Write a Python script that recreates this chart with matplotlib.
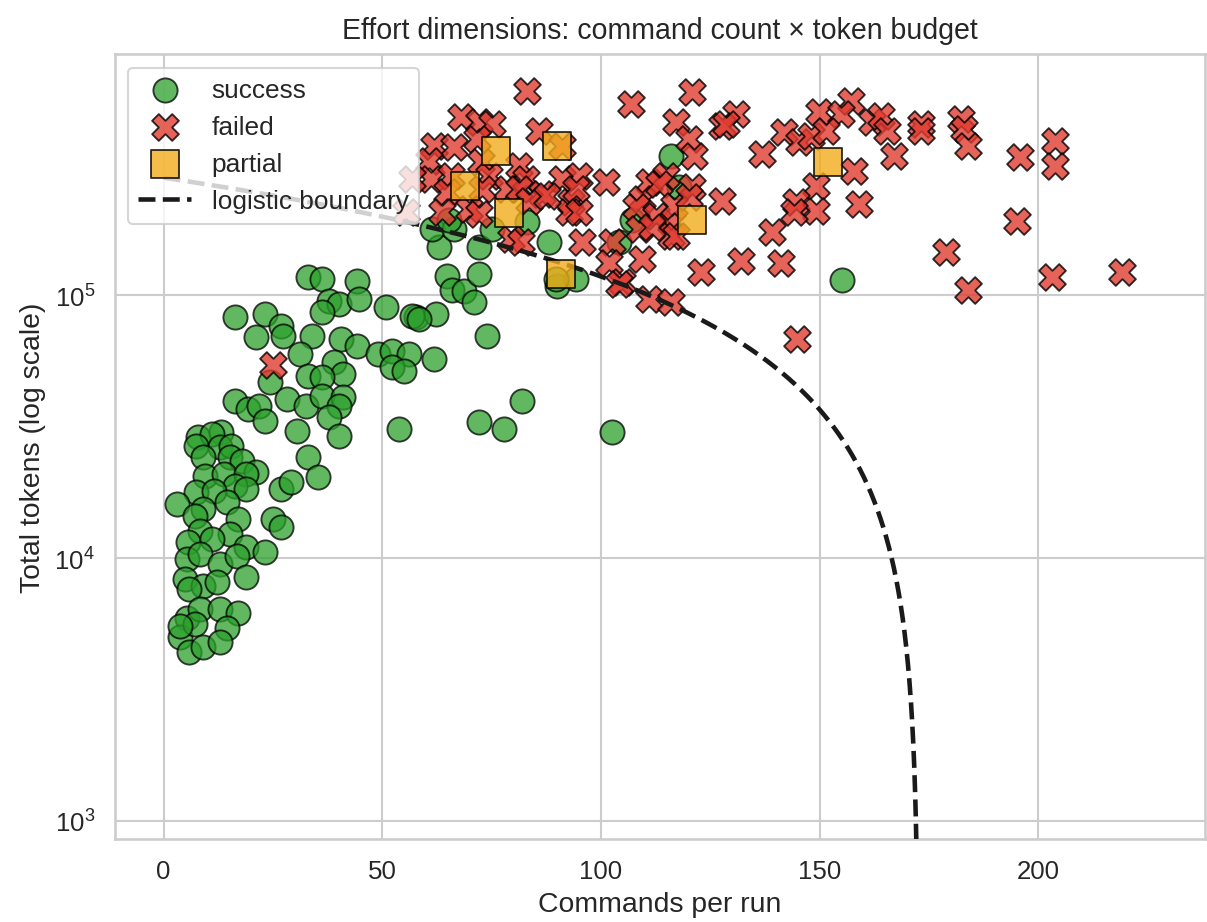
import numpy as np
import matplotlib
matplotlib.use("Agg")
import matplotlib.pyplot as plt
import seaborn as sns

sns.set_theme(style="whitegrid")
plt.rcParams['font.family'] = ['Liberation Sans', 'DejaVu Sans']

# commands per run / total tokens
success_cmds = [7.8, 13.2, 11.0, 7.5, 12.8, 15.5, 8.9, 15.1, 18.0, 21.2, 9.4, 13.9, 18.9, 16.2,
                7.5, 11.6, 18.9, 3.0, 8.9, 14.4, 16.9, 7.1, 15.1, 8.2, 5.5, 11.0, 18.9, 23.1,
                5.3, 8.2, 12.8, 16.7, 4.8, 8.9, 12.1, 18.9, 5.9, 5.3, 8.2, 12.8, 16.9, 3.7,
                7.1, 14.4, 5.9, 8.9, 12.8, 3.7,
                32.9, 36.1, 44.1, 37.9, 40.2, 44.7, 36.1, 50.9, 57.8, 62.3, 16.2, 23.1, 21.2,
                26.9, 27.2, 34.0, 40.6, 44.1, 48.9, 52.1, 56.2, 52.3, 55.0, 61.9, 31.1, 32.9,
                39.0, 40.9, 36.1, 24.2, 28.1, 16.2, 19.2, 21.9, 23.1, 30.6, 32.6, 36.1, 40.9,
                40.2, 37.9, 40.2, 53.9, 32.9, 35.2, 26.9, 29.2, 24.9, 26.9,
                63.0, 64.8, 66.0, 68.7, 71.0, 72.1, 61.4, 66.4, 72.1, 75.1, 83.1, 88.1, 90.0,
                94.3, 89.7, 116.0, 107.1, 104.1, 117.8, 56.8, 58.4, 74.0, 82.0, 72.1, 77.9,
                102.5, 65.3, 155.0]
success_tokens = [28.8e3, 30.1e3, 29.6e3, 26.7e3, 26.4e3, 26.7e3, 24.2e3, 24.2e3, 23.4e3, 21.2e3,
                  20.5e3, 20.9e3, 20.9e3, 18.8e3, 17.8e3, 18.0e3, 18.3e3, 16.0e3, 15.4e3, 16.3e3,
                  14.1e3, 14.5e3, 12.3e3, 12.7e3, 11.5e3, 11.8e3, 11.0e3, 10.5e3, 9.9e3, 10.4e3,
                  9.5e3, 10.2e3, 8.3e3, 7.8e3, 8.1e3, 8.5e3, 7.6e3, 5.9e3, 6.4e3, 6.4e3, 6.2e3,
                  5.0e3, 5.6e3, 5.4e3, 4.4e3, 4.6e3, 4.8e3, 5.5e3,
                  117e3, 115e3, 113e3, 94.8e3, 92.4e3, 96.6e3, 86.1e3, 90.0e3, 82.4e3, 84.7e3,
                  82.4e3, 84.7e3, 69.2e3, 76.2e3, 69.8e3, 69.8e3, 68.1e3, 64.0e3, 59.7e3, 61.2e3,
                  59.7e3, 53.2e3, 51.4e3, 57.1e3, 59.7e3, 49.2e3, 55.6e3, 50.1e3, 48.8e3, 46.7e3,
                  40.2e3, 39.5e3, 36.9e3, 37.8e3, 33.2e3, 30.4e3, 37.8e3, 41.3e3, 40.9e3, 37.8e3,
                  34.4e3, 29.1e3, 30.9e3, 24.2e3, 20.3e3, 18.3e3, 19.5e3, 14.1e3, 13.1e3,
                  153e3, 118e3, 105e3, 104e3, 94e3, 120e3, 178e3, 178e3, 153e3, 178e3, 190e3,
                  160e3, 108e3, 115e3, 115e3, 338e3, 194e3, 159e3, 257e3, 83.2e3, 81.1e3,
                  69.8e3, 39.5e3, 32.9e3, 30.9e3, 30.1e3, 194e3, 114e3]

failed_cmds = [83.1, 68.0, 72.1, 75.1, 85.8, 61.9, 66.4, 71.7, 60.7, 72.6, 81.3, 91.1, 61.2,
               65.8, 74.4, 78.5, 82.9, 91.1, 95.0, 56.8, 64.8, 72.8, 81.3, 86.5, 93.2, 63.7,
               69.9, 72.1, 83.6, 55.5, 92.7, 79.5, 81.7, 95.7, 94.3, 106.8, 120.8, 117.1,
               120.1, 121.2, 130.8, 127.6, 136.8, 141.8, 145.2, 147.9, 149.8, 101.1, 111.0,
               114.8, 120.8, 127.6, 149.1, 144.5, 149.1, 144.1, 109.4, 108.0, 112.6, 116.2,
               116.0, 108.7, 102.5, 109.4, 101.8, 104.8, 111.0, 116.0, 122.8, 132.0, 139.0,
               141.1, 144.7, 157.1, 154.8, 151.4, 161.9, 163.9, 165.3, 166.9, 173.1, 173.1,
               182.2, 182.9, 184.0, 157.8, 158.9, 178.8, 184.0, 195.0, 195.9, 203.9, 203.9,
               203.0, 219.0, 24.9, 113.2, 116.7, 120.1, 111.6, 117.1, 104.1, 128.5, 95.0,
               87.7]
failed_tokens = [597e3, 475e3, 455e3, 447e3, 420e3, 369e3, 365e3, 392e3, 323e3, 320e3, 309e3,
                 369e3, 276e3, 283e3, 283e3, 253e3, 276e3, 276e3, 283e3, 276e3, 246e3, 253e3,
                 253e3, 242e3, 226e3, 207e3, 212e3, 203e3, 228e3, 207e3, 207e3, 163e3, 159e3,
                 159e3, 253e3, 532e3, 591e3, 455e3, 392e3, 338e3, 488e3, 439e3, 344e3, 417e3,
                 382e3, 403e3, 497e3, 269e3, 269e3, 283e3, 257e3, 228e3, 260e3, 226e3, 209e3,
                 207e3, 232e3, 216e3, 200e3, 190e3, 168e3, 178e3, 159e3, 137e3, 133e3, 112e3,
                 96.6e3, 94e3, 123e3, 135e3, 174e3, 133e3, 68e3, 547e3, 488e3, 420e3, 455e3,
                 480e3, 420e3, 338e3, 447e3, 420e3, 467e3, 428e3, 369e3, 296e3, 222e3, 146e3,
                 105e3, 191e3, 335e3, 385e3, 309e3, 117e3, 122e3, 54.2e3, 264e3, 218e3, 236e3,
                 181e3, 168e3, 110e3, 447e3, 207e3, 238e3]

partial_cmds = [69.0, 76.0, 90.0, 79.0, 90.9, 120.8, 151.8]
partial_tokens = [260e3, 353e3, 369e3, 205e3, 120e3, 194e3, 320e3]

# fitted boundary: tokens = b0 + b1 * commands
boundary_b0 = 2.8e5
boundary_b1 = -2.8e5 / 172.6

fig, ax = plt.subplots(figsize=(8.047, 6.153), dpi=150)

ax.scatter(success_cmds, success_tokens, s=135, marker='o', color='#2ca02c', alpha=0.75,
           edgecolor='black', linewidth=0.9, label='success', zorder=3)
ax.scatter(failed_cmds, failed_tokens, s=165, marker='X', color='#e03c31', alpha=0.8,
           edgecolor='black', linewidth=0.9, label='failed', zorder=3)
ax.scatter(partial_cmds, partial_tokens, s=175, marker='s', color='#f2ab1c', alpha=0.8,
           edgecolor='black', linewidth=0.9, label='partial', zorder=5)

xs = np.linspace(0, 220, 4000)
ys = boundary_b0 + boundary_b1 * xs
keep = ys > 0
ax.plot(xs[keep], ys[keep], 'k--', linewidth=2.2, label='logistic boundary', zorder=4)

ax.set_yscale('log')
ax.set_xlim(-11.2, 238)
ax.set_ylim(854, 8.24e5)
ax.set_xticks([0, 50, 100, 150, 200])
ax.set_xlabel('Commands per run', fontsize=13.6)
ax.set_ylabel('Total tokens (log scale)', fontsize=13.6)
ax.set_title('Effort dimensions: command count × token budget', fontsize=13.7, pad=8)
ax.tick_params(labelsize=12.4)
ax.legend(loc='upper left', fontsize=12.6, framealpha=0.8)

plt.subplots_adjust(left=0.095, right=0.998, top=0.94, bottom=0.09)
fig.savefig('out.png', dpi=150)
